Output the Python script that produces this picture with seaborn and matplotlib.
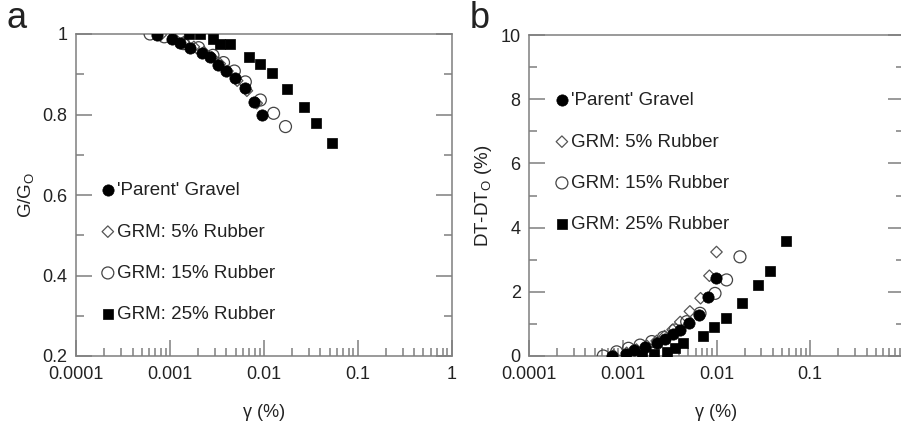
import numpy as np
import pandas as pd
import matplotlib
matplotlib.use("Agg")
import matplotlib.pyplot as plt
import seaborn as sns
from matplotlib.ticker import FixedLocator, FixedFormatter, LogLocator, NullFormatter

# ---------------- data ----------------
series_names = ["'Parent' Gravel", "GRM: 5% Rubber", "GRM: 15% Rubber", "GRM: 25% Rubber"]

# panel a : G/Go vs shear strain
a_parent_x = [7.3e-4, 1.05e-3, 1.29e-3, 1.64e-3, 2.19e-3, 2.64e-3, 3.25e-3, 3.98e-3, 4.97e-3, 6.24e-3, 7.92e-3, 9.57e-3]
a_parent_y = [0.997, 0.987, 0.978, 0.964, 0.954, 0.942, 0.923, 0.909, 0.890, 0.865, 0.832, 0.799]
a_r5_x = [8.0e-4, 1.1e-3, 1.4e-3, 1.8e-3, 2.3e-3, 2.8e-3, 3.4e-3, 4.1e-3, 5.2e-3, 6.6e-3, 8.4e-3]
a_r5_y = [0.998, 0.990, 0.980, 0.968, 0.955, 0.942, 0.926, 0.908, 0.884, 0.859, 0.828]
a_r15_x = [6.15e-4, 8.7e-4, 1.4e-3, 2.02e-3, 2.87e-3, 3.72e-3, 4.85e-3, 6.35e-3, 9.18e-3, 1.27e-2, 1.70e-2]
a_r15_y = [1.0, 0.993, 0.976, 0.966, 0.947, 0.929, 0.908, 0.881, 0.836, 0.803, 0.770]
a_r25_x = [1.58e-3, 2.1e-3, 2.87e-3, 3.44e-3, 4.32e-3, 6.89e-3, 9.18e-3, 1.22e-2, 1.77e-2, 2.66e-2, 3.63e-2, 5.34e-2]
a_r25_y = [1.0, 1.0, 0.987, 0.974, 0.974, 0.944, 0.925, 0.902, 0.863, 0.818, 0.780, 0.730]

# panel b : DT-DTo vs shear strain
b_parent_x = [7.6e-4, 1.07e-3, 1.32e-3, 1.73e-3, 2.3e-3, 2.82e-3, 3.41e-3, 4.08e-3, 5.13e-3, 6.56e-3, 8.18e-3, 9.88e-3]
b_parent_y = [0.0, 0.05, 0.19, 0.29, 0.41, 0.52, 0.68, 0.81, 1.02, 1.28, 1.85, 2.42]
b_r5_x = [8.0e-4, 1.1e-3, 1.4e-3, 1.8e-3, 2.3e-3, 2.8e-3, 3.4e-3, 4.1e-3, 5.2e-3, 6.76e-3, 8.4e-3, 1.0e-2]
b_r5_y = [0.02, 0.10, 0.20, 0.32, 0.47, 0.62, 0.82, 1.06, 1.39, 1.80, 2.50, 3.24]
b_r15_x = [6.2e-4, 8.6e-4, 1.15e-3, 1.53e-3, 2.04e-3, 2.71e-3, 3.61e-3, 4.81e-3, 6.67e-3, 9.64e-3, 1.28e-2, 1.78e-2]
b_r15_y = [0.0, 0.13, 0.24, 0.34, 0.45, 0.58, 0.81, 1.07, 1.33, 1.95, 2.37, 3.09]
b_r25_x = [1.59e-3, 2.17e-3, 2.94e-3, 3.61e-3, 4.36e-3, 7.12e-3, 9.4e-3, 1.25e-2, 1.85e-2, 2.75e-2, 3.72e-2, 5.51e-2]
b_r25_y = [0.03, 0.06, 0.13, 0.24, 0.41, 0.62, 0.91, 1.17, 1.65, 2.20, 2.64, 3.59]

x_ticks = [1e-4, 1e-3, 1e-2, 1e-1, 1]
a_xticklabels = ["0.0001", "0.001", "0.01", "0.1", "1"]
b_xticklabels = ["0.0001", "0.001", "0.01", "0.1", ""]   # "1" falls outside the picture
a_yticks = [0.2, 0.4, 0.6, 0.8, 1.0]
a_yticklabels = ["0.2", "0.4", "0.6", "0.8", "1"]
b_yticks = [0, 2, 4, 6, 8, 10]
b_yticklabels = ["0", "2", "4", "6", "8", "10"]

# ---------------- style ----------------
sns.set_theme(style="white")
plt.rcParams["font.family"] = ["Liberation Sans", "DejaVu Sans"]
plt.rcParams["mathtext.fontset"] = "custom"
plt.rcParams["mathtext.rm"] = "Liberation Sans"
plt.rcParams["mathtext.it"] = "Liberation Sans"

spine_c = "#7f7f7f"
txt_c = "#222222"

fig = plt.figure(figsize=(9.01, 4.24), dpi=100)
axA = fig.add_axes([76 / 901, 68 / 424, 375.7 / 901, 322 / 424])
axB = fig.add_axes([529 / 901, 68 / 424, 375 / 901, 321 / 424])

styles = [
    dict(marker="o", s=66, color="black", edgecolor="black", linewidth=0.5),
    dict(marker="D", s=34, facecolor="none", edgecolor="#555555", linewidth=0.9),
    dict(marker="o", s=74, facecolor="none", edgecolor="#444444", linewidth=0.9),
    dict(marker="s", s=50, color="black", edgecolor="black", linewidth=0.5),
]


def draw(ax, xs, ys):
    order = [2, 1, 0, 3]
    for i in order:
        df = pd.DataFrame({"x": xs[i], "y": ys[i]})
        sns.scatterplot(data=df, x="x", y="y", ax=ax, label=series_names[i],
                        zorder=3 + (i == 0), **styles[i])
    h, l = ax.get_legend_handles_labels()
    d = dict(zip(l, h))
    return [d[n] for n in series_names]


hA = draw(axA, [a_parent_x, a_r5_x, a_r15_x, a_r25_x], [a_parent_y, a_r5_y, a_r15_y, a_r25_y])
hB = draw(axB, [b_parent_x, b_r5_x, b_r15_x, b_r25_x], [b_parent_y, b_r5_y, b_r15_y, b_r25_y])

for ax, xl in ((axA, a_xticklabels), (axB, b_xticklabels)):
    ax.set_xscale("log")
    ax.set_xlim(1e-4, 1)
    ax.xaxis.set_major_locator(FixedLocator(x_ticks))
    ax.xaxis.set_major_formatter(FixedFormatter(xl))
    ax.xaxis.set_minor_locator(LogLocator(base=10, subs=np.arange(2, 10), numticks=20))
    ax.xaxis.set_minor_formatter(NullFormatter())
    for sp in ax.spines.values():
        sp.set_color(spine_c)
        sp.set_linewidth(1.1)
    ax.tick_params(axis="both", which="both", direction="in", color=spine_c, width=1.1,
                   labelcolor=txt_c, labelsize=13)
    ax.tick_params(axis="both", which="major", length=11.5)
    ax.tick_params(axis="both", which="minor", length=5.8)
    ax.tick_params(axis="x", which="both", bottom=True, top=False, pad=7)
    ax.tick_params(axis="y", which="both", left=True, right=True, pad=6)
    ax.set_xlabel("γ (%)", fontsize=13, color=txt_c, labelpad=15)
    ax.set_facecolor("white")

axA.set_ylim(0.2, 1.0)
axA.yaxis.set_major_locator(FixedLocator(a_yticks))
axA.yaxis.set_major_formatter(FixedFormatter(a_yticklabels))
axA.yaxis.set_minor_locator(FixedLocator([0.3, 0.5, 0.7, 0.9]))
axA.set_ylabel(r"G/G$_{\mathregular{O}}$", fontsize=13.5, color=txt_c, labelpad=5)

axB.set_ylim(0, 10)
axB.yaxis.set_major_locator(FixedLocator(b_yticks))
axB.yaxis.set_major_formatter(FixedFormatter(b_yticklabels))
axB.yaxis.set_minor_locator(FixedLocator([1, 3, 5, 7, 9]))
axB.set_ylabel(r"DT-DT$_{\mathregular{O}}$ (%)", fontsize=13.5, color=txt_c, labelpad=5)

leg_kw = dict(frameon=False, fontsize=13.5, handlelength=0.75, handletextpad=0.12,
              labelspacing=1.29, borderpad=0, borderaxespad=0, loc="upper left",
              scatterpoints=1, labelcolor=txt_c)
axA.legend(hA, series_names, bbox_to_anchor=(0.066, 0.54), **leg_kw)
axB.legend(hB, series_names, bbox_to_anchor=(0.069, 0.822), **leg_kw)

fig.text(6 / 901, 1 - 28 / 424, "a", fontsize=26, color=txt_c, ha="left", va="baseline")
fig.text(470 / 901, 1 - 28 / 424, "b", fontsize=26, color=txt_c, ha="left", va="baseline")

fig.savefig("out.png", dpi=100, facecolor="white")
